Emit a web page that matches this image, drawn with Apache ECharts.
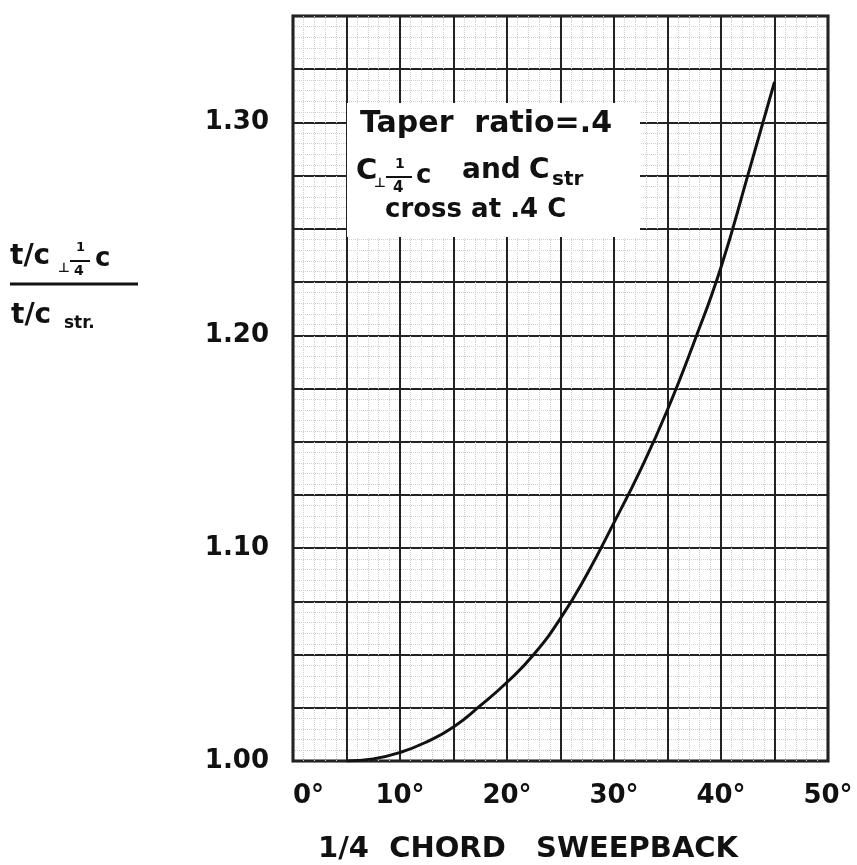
<!DOCTYPE html>
<html>
<head>
<meta charset="utf-8">
<script src="https://cdn.jsdelivr.net/npm/echarts@6/dist/echarts.min.js"></script>
<style>
  html, body { margin: 0; padding: 0; background: #fff; }
  #chart { width: 857px; height: 865px; }
</style>
</head>
<body>
<div id="chart"></div>
<script>
// sweep angle in degrees (1/4 chord) and the thickness ratio
var sweepDeg = [5, 7.5, 10, 12.5, 15, 17.5, 20, 22.5, 25, 27.5, 30, 32.5, 35, 37.5, 40, 42.5, 45];
var tcRatio = [1.000, 1.001, 1.004, 1.009, 1.016, 1.026, 1.037, 1.050, 1.067, 1.088, 1.112, 1.137, 1.165, 1.197, 1.232, 1.275, 1.319];

var xTickLabels = ['0°', '10°', '20°', '30°', '40°', '50°'];
var yTickLabels = ['1.00', '1.10', '1.20', '1.30'];

var FONT = 'DejaVu Sans';
var INK = '#111';

var dom = document.getElementById('chart');
var myChart = echarts.init(dom);

var data = [];
for (var i = 0; i < sweepDeg.length; i++) {
    data.push([sweepDeg[i], tcRatio[i]]);
}

function txt(left, top, text, size) {
    return {
        type: 'text', z: 60, left: left, top: top,
        style: { text: text, fontFamily: FONT, fontWeight: 'bold', fontSize: size, fill: INK }
    };
}

function bar(x1, x2, y, w) {
    return {
        type: 'line', z: 60,
        shape: { x1: x1, y1: y, x2: x2, y2: y },
        style: { stroke: INK, lineWidth: w }
    };
}

option = {
    backgroundColor: '#fff',
    animation: false,
    grid: {
        left: 293,
        right: 29,
        top: 16,
        bottom: 104,
        show: true,
        borderColor: INK,
        borderWidth: 3,
        backgroundColor: 'transparent'
    },
    xAxis: {
        type: 'value',
        min: 0,
        max: 50,
        interval: 5,
        axisLine: { show: false },
        axisTick: { show: false },
        axisLabel: {
            margin: 22,
            color: INK,
            fontFamily: FONT,
            fontWeight: 'bold',
            fontSize: 26,
            alignMinLabel: 'left',
            formatter: function (v) {
                if (v % 10 !== 0) return '';
                return xTickLabels[v / 10];
            }
        },
        splitLine: { show: true, lineStyle: { color: '#222', width: 2 } },
        minorTick: { show: false, splitNumber: 5 },
        minorSplitLine: { show: true, lineStyle: { color: '#cfcfcf', width: 1, type: 'dotted' } }
    },
    yAxis: {
        type: 'value',
        min: 1.0,
        max: 1.35,
        interval: 0.025,
        axisLine: { show: false },
        axisTick: { show: false },
        axisLabel: {
            margin: 24,
            color: INK,
            fontFamily: FONT,
            fontWeight: 'bold',
            fontSize: 26,
            formatter: function (v) {
                var k = Math.round((v - 1) * 1000);
                if (k % 100 !== 0) return '';
                return yTickLabels[k / 100];
            }
        },
        splitLine: { show: true, lineStyle: { color: '#222', width: 2 } },
        minorTick: { show: false, splitNumber: 5 },
        minorSplitLine: { show: true, lineStyle: { color: '#cfcfcf', width: 1, type: 'dotted' } }
    },
    series: [{
        type: 'line',
        data: data,
        smooth: true,
        showSymbol: false,
        lineStyle: { color: INK, width: 3 },
        z: 5
    }],
    graphic: [
        // white panel behind the note
        {
            type: 'rect',
            z: 50,
            shape: { x: 347, y: 103, width: 293, height: 134 },
            style: { fill: '#fff' }
        },
        txt(360, 109, 'Taper  ratio=.4', 30),
        txt(356, 157, 'C', 29),
        txt(374, 177, '⊥', 13),
        txt(395, 157, '1', 14),
        bar(386, 412, 177, 2),
        txt(393, 181, '4', 15),
        txt(416, 163, 'c', 26),
        txt(462, 157, 'and', 28),
        txt(529, 157, 'C', 28),
        txt(552, 170, 'str', 20),
        txt(385, 197, 'cross at .4 C', 26),

        // y axis title as a fraction
        txt(10, 243, 't/c', 28),
        txt(58, 262, '⊥', 13),
        txt(76, 241, '1', 13),
        bar(70, 90, 261, 2),
        txt(74, 264, '4', 14),
        txt(95, 246, 'c', 26),
        bar(10, 138, 284, 3),
        txt(11, 302, 't/c', 28),
        txt(64, 315, 'str.', 17),

        // x axis title
        txt(318, 835, '1/4  CHORD   SWEEPBACK', 29)
    ]
};

if (option && typeof option === 'object') {
    myChart.setOption(option, true);
}
</script>
</body>
</html>
